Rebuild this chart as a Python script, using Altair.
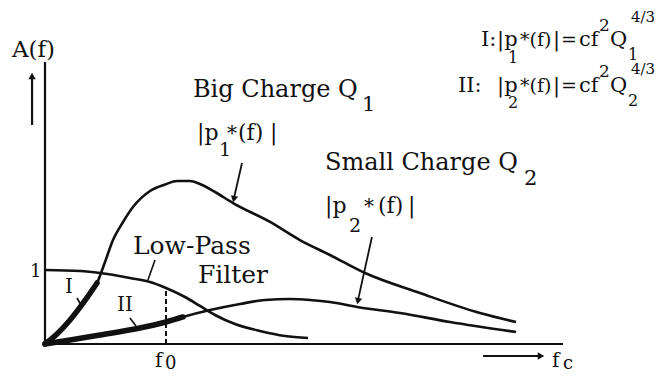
import altair as alt
import pandas as pd

# ---- curves (f in units of f0, A relative to filter pass-band = 1) ----
big_f = [0, 0.099, 0.207, 0.322, 0.430, 0.496, 0.562, 0.645, 0.727, 0.868, 0.992, 1.091,
         1.198, 1.281, 1.405, 1.554, 1.860, 2.107, 2.355, 2.645, 3.099, 3.595, 3.893]
big_a = [0, 0.135, 0.324, 0.568, 0.824, 1.108, 1.405, 1.649, 1.851, 2.068, 2.155, 2.203,
         2.203, 2.162, 2.054, 1.905, 1.649, 1.405, 1.203, 0.959, 0.689, 0.419, 0.297]

small_f = [0, 0.207, 0.455, 0.744, 1.000, 1.140, 1.364, 1.612, 1.818, 2.025, 2.190, 2.355,
           2.579, 2.934, 3.347, 3.893]
small_a = [0, 0.054, 0.122, 0.203, 0.297, 0.365, 0.459, 0.541, 0.595, 0.608, 0.595, 0.568,
           0.500, 0.419, 0.297, 0.162]

lp_f = [0, 0.289, 0.455, 0.702, 0.868, 1.000, 1.157, 1.281, 1.405, 1.570, 1.777, 1.983, 2.174]
lp_a = [1.0, 0.986, 0.959, 0.892, 0.838, 0.757, 0.635, 0.514, 0.392, 0.270, 0.176, 0.108, 0.081]

thick_I_end = 5    # points of the big-charge curve drawn bold (region I)
thick_II_end = 6   # points of the small-charge curve drawn bold (region II)

f0 = 1.0
lp_at_f0 = 0.757

# ---- axis lines, arrows and leader lines: (f, A, f2, A2, width) ----
seg_f = [0, 0, -0.107, 3.620, 1.628, 2.702, 0.264, 0.702, 0.909]
seg_a = [0, 0, 2.960, -0.162, 2.446, 1.446, 0.622, 0.351, 1.135]
seg_f2 = [4.281, 0, -0.107, 4.080, 1.560, 2.585, 0.298, 0.752, 0.851]
seg_a2 = [0, 3.811, 3.600, -0.162, 1.960, 0.580, 0.527, 0.243, 0.865]
seg_w = [2.2, 2.2, 2.2, 2.0, 1.8, 1.8, 1.6, 1.6, 1.6]

head_f = [-0.107, 4.099, 1.561, 2.586]
head_a = [3.622, -0.162, 1.958, 0.580]
head_ang = [0, 90, 193, 192]

# ---- text labels ----
txt = ["A(f)", "1", "I", "II", "Low-Pass", "Filter", "f", "0", "f", "c",
       "Big Charge Q", "1",
       "|p", "1", "*", "(f)", "|",
       "Small Charge Q", "2",
       "|p", "2", "*", "(f)", "|",
       "I:", "|p", "1", "*(f)", "|", "=", "cf", "2", "Q", "1", "4/3",
       "II:", "|p", "2", "*(f)", "|", "=", "cf", "2", "Q", "2", "4/3"]
txt_f = [-0.273, -0.124, 0.165, 0.595, 0.727, 1.264, 0.909, 0.992, 4.190, 4.281,
         1.223, 2.620,
         1.256, 1.438, 1.504, 1.595, 1.860,
         2.314, 3.959,
         2.314, 2.512, 2.636, 2.752, 3.000,
         3.603, 3.736, 3.826, 3.926, 4.198, 4.264, 4.413, 4.578, 4.669, 4.818, 4.843,
         3.413, 3.736, 3.826, 3.926, 4.198, 4.264, 4.413, 4.578, 4.669, 4.818, 4.843]
txt_a = [3.878, 0.905, 0.689, 0.446, 1.216, 0.824, -0.311, -0.338, -0.311, -0.338,
         3.338, 3.149,
         2.757, 2.541, 2.757, 2.757, 2.757,
         2.351, 2.149,
         1.770, 1.514, 1.770, 1.770, 1.770,
         4.027, 4.027, 3.797, 4.027, 4.027, 4.027, 4.027, 4.230, 4.027, 3.838, 4.351,
         3.405, 3.405, 3.189, 3.405, 3.405, 3.405, 3.405, 3.608, 3.405, 3.216, 3.649]
txt_s = [23, 18, 20, 20, 25, 25, 20, 18, 20, 18,
         24, 21,
         22, 19, 20, 22, 22,
         24, 21,
         22, 19, 20, 22, 22,
         21, 21, 16, 19, 21, 19, 21, 17, 21, 16, 15,
         21, 21, 16, 19, 21, 19, 21, 17, 21, 16, 15]

# ---- build tables ----
curves = pd.DataFrame({"f": big_f + small_f + lp_f,
                       "a": big_a + small_a + lp_a,
                       "c": ["big"] * len(big_f) + ["small"] * len(small_f) + ["lp"] * len(lp_f)})
thick = pd.DataFrame({"f": big_f[:thick_I_end] + small_f[:thick_II_end],
                      "a": big_a[:thick_I_end] + small_a[:thick_II_end],
                      "c": ["I"] * thick_I_end + ["II"] * thick_II_end})
segs = pd.DataFrame({"f": seg_f, "a": seg_a, "f2": seg_f2, "a2": seg_a2, "w": seg_w})
heads = pd.DataFrame({"f": head_f, "a": head_a, "ang": head_ang})
dashed = pd.DataFrame({"f": [f0], "a": [0.0], "a2": [lp_at_f0]})
labels = pd.DataFrame({"t": txt, "f": txt_f, "a": txt_a, "s": txt_s})

xs = alt.Scale(domain=[-0.30579, 5.08264], nice=False, zero=False)
ys = alt.Scale(domain=[-0.39189, 4.54054], nice=False, zero=False)
X = alt.X("f:Q", scale=xs, axis=None)
Y = alt.Y("a:Q", scale=ys, axis=None)

ink = "#111111"

curve_layer = alt.Chart(curves).mark_line(color=ink, strokeWidth=2.6, interpolate="monotone").encode(
    x=X, y=Y, detail="c:N", order="f:Q")
thick_layer = alt.Chart(thick).mark_line(color=ink, strokeWidth=5.5, interpolate="monotone", strokeCap="round").encode(
    x=X, y=Y, detail="c:N", order="f:Q")
seg_layer = alt.Chart(segs).mark_rule(color=ink).encode(
    x=X, y=Y, x2="f2:Q", y2="a2:Q", strokeWidth=alt.StrokeWidth("w:Q", scale=None))
dash_layer = alt.Chart(dashed).mark_rule(color=ink, strokeWidth=2, strokeDash=[5, 3]).encode(
    x=X, y=Y, y2="a2:Q")
head_layer = alt.Chart(heads).mark_point(shape="triangle-up", filled=True, color=ink, size=55, opacity=1).encode(
    x=X, y=Y, angle=alt.Angle("ang:Q", scale=None))
text_layer = alt.Chart(labels).mark_text(align="left", baseline="alphabetic", font="DejaVu Serif", color=ink).encode(
    x=X, y=Y, text="t:N", size=alt.Size("s:Q", scale=None))

chart = alt.layer(curve_layer, thick_layer, seg_layer, dash_layer, head_layer, text_layer).properties(
    width=652, height=365, autosize="none", padding=0, background="white"
).configure_view(stroke=None)

chart.save("out.html", embed_options={"renderer": "svg", "actions": False})
